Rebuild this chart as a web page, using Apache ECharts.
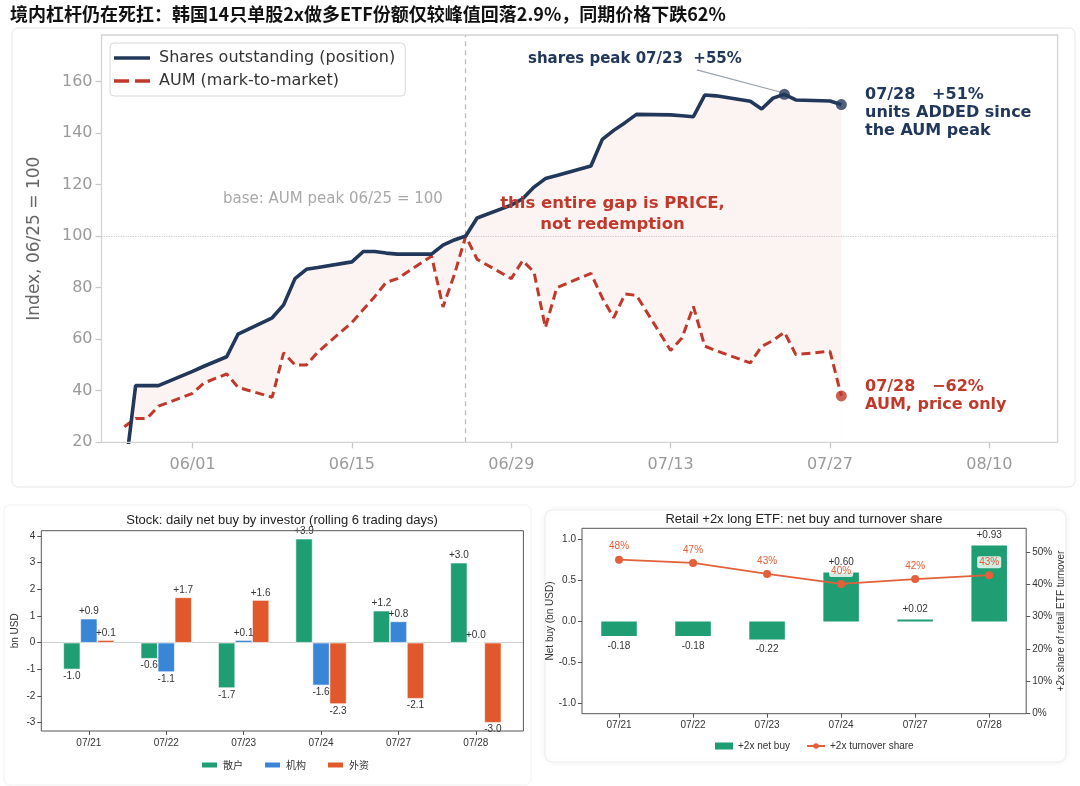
<!DOCTYPE html>
<html>
<head>
<meta charset="utf-8">
<title>韩国单股2x做多ETF</title>
<script src="https://cdn.jsdelivr.net/npm/echarts@6.0.0/dist/echarts.min.js"></script>
<style>
    html, body { margin: 0; padding: 0; background: #fff; }
    #chart { width: 1080px; height: 786px; }
</style>
</head>
<body>
<div id="chart"></div>
<script>
// 上图: 份额 vs AUM, 06/25 = 100
var dates = ['05/26', '05/27', '05/28', '05/29', '06/01', '06/02', '06/04', '06/05', '06/08', '06/09',
    '06/10', '06/11', '06/12', '06/15', '06/16', '06/17', '06/18', '06/19', '06/22', '06/23',
    '06/24', '06/25', '06/26', '06/29', '06/30', '07/01', '07/02', '07/03', '07/06', '07/07',
    '07/08', '07/09', '07/10', '07/13', '07/14', '07/15', '07/16', '07/17', '07/20', '07/21',
    '07/22', '07/23', '07/24', '07/27', '07/28'];
var shares = [6, 42, 42, 42, 47.5, 49.5, 53.2, 62, 68.3, 73.3,
    83.5, 87.1, 87.8, 90, 94, 94, 93.4, 93, 93, 96.5,
    98.5, 100, 107, 112, 114.5, 119, 122.3, 123.5, 127.2, 137.5,
    141, 144, 147.2, 147, 146.7, 146.3, 154.7, 154.4, 152.3, 149.3,
    153.5, 155, 152.8, 152.4, 151];
var aum = [26, 29.2, 29.3, 34, 39, 43, 46.5, 41.3, 37.5, 54.7,
    50, 50, 55, 66.5, 71.5, 76.5, 82, 83.5, 92.2, 72.5,
    85, 100, 91, 83.5, 90.5, 86, 64.5, 80, 85.5, 76,
    68.3, 77.5, 77, 55.6, 60.5, 72.7, 57.3, 55.5, 50.8, 57.2,
    59.5, 62.7, 54, 55.3, 38];
var dayTicks = ['06/01', '06/15', '06/29', '07/13', '07/27', '08/10'];
var indexTicks = [20, 40, 60, 80, 100, 120, 140, 160];

// 左下: 个股按投资者净买入
var flowDays = ['07/21', '07/22', '07/23', '07/24', '07/27', '07/28'];
var retail = [-1.0, -0.6, -1.7, 3.9, 1.2, 3.0];
var inst = [0.9, -1.1, 0.1, -1.6, 0.8, 0.02];
var foreign = [0.1, 1.7, 1.6, -2.3, -2.1, -3.0];
var flowTicks = [-3, -2, -1, 0, 1, 2, 3, 4];

// 右下: 散户 +2x ETF
var etfDays = ['07/21', '07/22', '07/23', '07/24', '07/27', '07/28'];
var etfNetBuy = [-0.18, -0.18, -0.22, 0.60, 0.024, 0.93];
var etfShare = [47.6, 46.6, 43.2, 40.1, 41.6, 42.8];
var netBuyTicks = [-1, -0.5, 0, 0.5, 1];
var shareTicks = [0, 10, 20, 30, 40, 50];

var NAVY = '#22385a';
var RED = '#c0392b';
var GREEN = '#1f9e74';
var BLUE = '#3a86d6';
var ORANGE = '#e0582c';
var LINE_ORANGE = '#e2603a';
var SANS = 'Liberation Sans';

var DAY0 = Date.UTC(2026, 5, 1);

function dayOf(md) {
    var p = md.split('/');
    return (Date.UTC(2026, +p[0] - 1, +p[1]) - DAY0) / 86400000;
}

function mdOf(day) {
    var d = new Date(DAY0 + Math.round(day) * 86400000);
    var m = d.getUTCMonth() + 1, dd = d.getUTCDate();
    return (m < 10 ? '0' : '') + m + '/' + (dd < 10 ? '0' : '') + dd;
}

function signed(v, n) {
    return (v >= 0 ? '+' : '') + v.toFixed(n);
}

function pairs(xs, ys) {
    var out = [];
    for (var i = 0; i < xs.length; i++) {
        out.push([dayOf(xs[i]), ys[i]]);
    }
    return out;
}

function flowBars(vals) {
    var out = [];
    for (var i = 0; i < vals.length; i++) {
        out.push({value: [i, vals[i]], label: {position: vals[i] < 0 ? 'bottom' : 'top'}});
    }
    return out;
}

function etfBars(vals) {
    var out = [];
    for (var i = 0; i < vals.length; i++) {
        out.push({value: vals[i], label: {position: vals[i] < 0 ? 'bottom' : 'top'}});
    }
    return out;
}

function initChart() {
    var sharesPts = pairs(dates, shares);
    var aumPts = pairs(dates, aum);
    var last = dates.length - 1;
    var peak = 0;
    for (var i = 1; i < shares.length; i++) {
        if (shares[i] > shares[peak]) peak = i;
    }

    var myChart = echarts.init(document.getElementById('chart'), null, {renderer: 'canvas'});

    var option = {
        backgroundColor: '#fff',
        animation: false,
        textStyle: {fontFamily: 'DejaVu Sans'},
        title: [
            {
                text: '境内杠杆仍在死扛：韩国14只单股2x做多ETF份额仅较峰值回落2.9%，同期价格下跌62%',
                left: 10, top: 5, padding: 0,
                textStyle: {fontFamily: 'Noto Sans CJK SC', fontSize: 18, fontWeight: 'bold', color: '#111'}
            },
            {
                text: 'Stock: daily net buy by investor (rolling 6 trading days)',
                left: 282, top: 514, padding: 0, textAlign: 'center',
                textStyle: {fontFamily: SANS, fontSize: 13, fontWeight: 'normal', color: '#222'}
            },
            {
                text: 'Retail +2x long ETF: net buy and turnover share',
                left: 804, top: 513, padding: 0, textAlign: 'center',
                textStyle: {fontFamily: SANS, fontSize: 13, fontWeight: 'normal', color: '#222'}
            }
        ],
        legend: [
            {
                data: [
                    {name: 'Shares outstanding (position)', icon: 'path://M0,0h36v3.6h-36z'},
                    {name: 'AUM (mark-to-market)', icon: 'path://M0,0h15v3.6h-15zM21,0h15v3.6h-15z'}
                ],
                orient: 'vertical', left: 110, top: 43,
                padding: [7, 10, 7, 4], itemGap: 7, itemWidth: 36, itemHeight: 3.6,
                backgroundColor: '#fff', borderColor: '#d8d8d8', borderWidth: 1, borderRadius: 4,
                textStyle: {fontFamily: 'DejaVu Sans', fontSize: 16, color: '#333', padding: [0, 0, 0, 4]}
            },
            {
                data: ['散户', '机构', '外资'],
                left: 200, top: 760, padding: 0, itemGap: 20,
                itemWidth: 17, itemHeight: 7, icon: 'rect',
                textStyle: {fontFamily: 'Noto Sans CJK SC', fontSize: 10, color: '#333'}
            },
            {
                data: [{name: '+2x net buy', icon: 'rect'}, {name: '+2x turnover share'}],
                left: 715, top: 741, padding: 0, itemGap: 16,
                itemWidth: 18, itemHeight: 7,
                textStyle: {fontFamily: SANS, fontSize: 10, color: '#333'}
            }
        ],
        grid: [
            {
                left: 101.5, right: 22.4, top: 35, bottom: 343.7, outerBoundsMode: 'none',
                show: true, z: 20, backgroundColor: 'transparent', borderColor: '#d4d4d4', borderWidth: 1.3
            },
            {
                left: 41.3, right: 556.6, top: 530.7, bottom: 55, outerBoundsMode: 'none',
                show: true, z: 20, backgroundColor: 'transparent', borderColor: '#555', borderWidth: 1
            },
            {
                left: 582, right: 53.8, top: 528.3, bottom: 72.3, outerBoundsMode: 'none',
                show: true, z: 20, backgroundColor: 'transparent', borderColor: '#555', borderWidth: 1
            }
        ],
        xAxis: [
            {
                type: 'value', gridIndex: 0, min: -8, max: 76,
                axisLine: {show: false, onZero: false},
                splitLine: {show: false},
                axisTick: {show: true, length: 6, customValues: dayTicks.map(dayOf), lineStyle: {color: '#c8c8c8', width: 1.3}},
                axisLabel: {
                    customValues: dayTicks.map(dayOf), margin: 15,
                    fontFamily: 'DejaVu Sans', fontSize: 16, color: '#9a9a9a',
                    formatter: function (v) { return mdOf(v); }
                }
            },
            {
                type: 'value', gridIndex: 1, min: -0.614, max: 5.614,
                axisLine: {show: false, onZero: false},
                splitLine: {show: false},
                axisTick: {show: true, length: 4, customValues: [0, 1, 2, 3, 4, 5], lineStyle: {color: '#555'}},
                axisLabel: {
                    customValues: [0, 1, 2, 3, 4, 5], margin: 7,
                    fontFamily: SANS, fontSize: 10, color: '#333',
                    formatter: function (v) { return flowDays[Math.round(v)]; }
                }
            },
            {
                type: 'category', gridIndex: 2, data: etfDays,
                axisLine: {show: false, onZero: false},
                axisTick: {show: true, alignWithLabel: true, length: 4, lineStyle: {color: '#555'}},
                axisLabel: {margin: 7, fontFamily: SANS, fontSize: 10, color: '#333'}
            }
        ],
        yAxis: [
            {
                type: 'value', gridIndex: 0, min: 20, max: 178,
                name: 'Index, 06/25 = 100', nameLocation: 'middle', nameGap: 58, nameRotate: 90,
                nameTextStyle: {fontFamily: 'DejaVu Sans', fontSize: 17, color: '#666'},
                axisLine: {show: false, onZero: false},
                splitLine: {show: false},
                axisTick: {show: true, length: 6, customValues: indexTicks, lineStyle: {color: '#c8c8c8', width: 1.3}},
                axisLabel: {customValues: indexTicks, margin: 9, fontFamily: 'DejaVu Sans', fontSize: 16, color: '#9a9a9a'}
            },
            {
                type: 'value', gridIndex: 1, min: -3.31, max: 4.2,
                name: 'bn USD', nameLocation: 'middle', nameGap: 21, nameRotate: 90,
                nameTextStyle: {fontFamily: SANS, fontSize: 10, color: '#333'},
                axisLine: {show: false, onZero: false},
                splitLine: {show: false},
                axisTick: {show: true, length: 4, customValues: flowTicks, lineStyle: {color: '#555'}},
                axisLabel: {customValues: flowTicks, margin: 6, fontFamily: SANS, fontSize: 10, color: '#333'}
            },
            {
                type: 'value', gridIndex: 2, min: -1.13, max: 1.14, position: 'left',
                name: 'Net buy (bn USD)', nameLocation: 'middle', nameGap: 26, nameRotate: 90,
                nameTextStyle: {fontFamily: SANS, fontSize: 10, color: '#333'},
                axisLine: {show: false, onZero: false},
                splitLine: {show: false},
                axisTick: {show: true, length: 4, customValues: netBuyTicks, lineStyle: {color: '#555'}},
                axisLabel: {
                    customValues: netBuyTicks, margin: 6, fontFamily: SANS, fontSize: 10, color: '#333',
                    formatter: function (v) { return v.toFixed(1); }
                }
            },
            {
                type: 'value', gridIndex: 2, min: 0, max: 57.3, position: 'right',
                name: '+2x share of retail ETF turnover', nameLocation: 'middle', nameGap: 27, nameRotate: 90,
                nameTextStyle: {fontFamily: SANS, fontSize: 10, color: '#333'},
                axisLine: {show: false, onZero: false},
                splitLine: {show: false},
                axisTick: {show: true, length: 4, customValues: shareTicks, lineStyle: {color: '#555'}},
                axisLabel: {
                    customValues: shareTicks, margin: 6, fontFamily: SANS, fontSize: 10, color: '#333',
                    formatter: function (v) { return v + '%'; }
                }
            }
        ],
        series: [
            // 份额线下方涂粉色, 再用白色盖住 AUM 线以下 => 两线之间的缺口
            {
                name: 'gapFill', type: 'line', xAxisIndex: 0, yAxisIndex: 0, data: sharesPts,
                symbol: 'none', silent: true, z: 1,
                lineStyle: {width: 0},
                areaStyle: {color: 'rgba(200,70,60,0.09)', origin: 'start'}
            },
            {
                name: 'gapMask', type: 'line', xAxisIndex: 0, yAxisIndex: 0, data: aumPts,
                symbol: 'none', silent: true, z: 2,
                lineStyle: {width: 0},
                areaStyle: {color: '#fff', opacity: 1, origin: 'start'},
                markLine: {
                    silent: true, symbol: 'none', label: {show: false},
                    data: [
                        {yAxis: 100, lineStyle: {type: 'dotted', color: '#c8c8c8', width: 1.2}},
                        {xAxis: dayOf('06/25'), lineStyle: {type: [5, 4], color: '#bdbdbd', width: 1.3}}
                    ]
                }
            },
            {
                name: 'AUM (mark-to-market)', type: 'line', xAxisIndex: 0, yAxisIndex: 0, data: aumPts,
                symbol: 'none', z: 9, color: RED,
                lineStyle: {color: RED, width: 3, type: [9, 5]}
            },
            {
                name: 'Shares outstanding (position)', type: 'line', xAxisIndex: 0, yAxisIndex: 0, data: sharesPts,
                symbol: 'none', z: 10, color: NAVY,
                lineStyle: {color: NAVY, width: 3.6},
                markLine: {
                    silent: true, symbol: 'none', label: {show: false},
                    lineStyle: {type: 'solid', color: '#9aa3ad', width: 1.2},
                    data: [[{coord: [44.3, 164.5]}, {coord: [dayOf(dates[peak]) - 0.3, shares[peak] + 0.8]}]]
                }
            },
            {
                name: 'sharesDots', type: 'scatter', xAxisIndex: 0, yAxisIndex: 0, z: 11,
                data: [sharesPts[peak], sharesPts[last]],
                symbolSize: 11, itemStyle: {color: NAVY}
            },
            {
                name: 'aumDot', type: 'scatter', xAxisIndex: 0, yAxisIndex: 0, z: 11,
                data: [aumPts[last]],
                symbolSize: 11, itemStyle: {color: RED}
            },

            // 左下
            {
                name: '散户', type: 'bar', xAxisIndex: 1, yAxisIndex: 1, data: flowBars(retail),
                barWidth: 17, barGap: '0%', z: 6,
                itemStyle: {color: GREEN, borderColor: '#fff', borderWidth: 0.6},
                label: {show: true, distance: 2, fontFamily: SANS, fontSize: 10, color: '#333',
                    formatter: function (p) { return signed(p.value[1], 1); }},
                markLine: {
                    silent: true, symbol: 'none', label: {show: false}, z: 1,
                    lineStyle: {type: 'solid', color: '#cfcfcf', width: 1},
                    data: [{yAxis: 0}]
                }
            },
            {
                name: '机构', type: 'bar', xAxisIndex: 1, yAxisIndex: 1, data: flowBars(inst),
                barWidth: 17, barGap: '0%', z: 6,
                itemStyle: {color: BLUE, borderColor: '#fff', borderWidth: 0.6},
                label: {show: true, distance: 2, fontFamily: SANS, fontSize: 10, color: '#333',
                    formatter: function (p) { return signed(p.value[1], 1); }}
            },
            {
                name: '外资', type: 'bar', xAxisIndex: 1, yAxisIndex: 1, data: flowBars(foreign),
                barWidth: 17, barGap: '0%', z: 6,
                itemStyle: {color: ORANGE, borderColor: '#fff', borderWidth: 0.6},
                label: {show: true, distance: 2, fontFamily: SANS, fontSize: 10, color: '#333',
                    formatter: function (p) { return signed(p.value[1], 1); }}
            },

            // 右下
            {
                name: '+2x net buy', type: 'bar', xAxisIndex: 2, yAxisIndex: 2, data: etfBars(etfNetBuy),
                barWidth: '48%', z: 4,
                itemStyle: {color: GREEN},
                label: {show: true, distance: 5, fontFamily: SANS, fontSize: 10, color: '#333',
                    formatter: function (p) { return signed(p.value, 2); }}
            },
            {
                name: '+2x turnover share', type: 'line', xAxisIndex: 2, yAxisIndex: 3, data: etfShare,
                z: 5, color: LINE_ORANGE,
                symbol: 'circle', symbolSize: 8,
                lineStyle: {color: LINE_ORANGE, width: 1.8},
                itemStyle: {color: LINE_ORANGE},
                label: {
                    show: true, position: 'top', distance: 3,
                    fontFamily: SANS, fontSize: 10, color: LINE_ORANGE,
                    backgroundColor: 'rgba(255,255,255,0.8)', padding: [1, 2], borderRadius: 2,
                    formatter: function (p) { return Math.round(p.value) + '%'; }
                }
            }
        ],
        graphic: [
            // 卡片边框
            {type: 'rect', z: -10, silent: true, shape: {x: 12, y: 28, width: 1063, height: 459, r: 6},
                style: {fill: 'none', stroke: '#e6e6e6', lineWidth: 1}},
            {type: 'rect', z: -10, silent: true, shape: {x: 4, y: 505, width: 527, height: 280, r: 6},
                style: {fill: 'none', stroke: '#f0f0f0', lineWidth: 1}},
            {type: 'rect', z: -10, silent: true, shape: {x: 545, y: 510, width: 521, height: 252, r: 8},
                style: {fill: '#fff', stroke: '#ececec', lineWidth: 1, shadowBlur: 6, shadowColor: 'rgba(0,0,0,0.06)'}},

            // 上图注释
            {type: 'text', z: 30, silent: true, x: 528, y: 59.5,
                style: {text: 'shares peak 07/23  +55%', fill: NAVY, font: 'bold 15px "DejaVu Sans"',
                    textAlign: 'left', textVerticalAlign: 'middle'}},
            {type: 'text', z: 30, silent: true, x: 865, y: 86,
                style: {text: '07/28   +51%\nunits ADDED since\nthe AUM peak', fill: NAVY,
                    font: 'bold 16px "DejaVu Sans"', lineHeight: 18, textAlign: 'left', textVerticalAlign: 'top'}},
            {type: 'text', z: 30, silent: true, x: 865, y: 377.5,
                style: {text: '07/28   \u221262%\nAUM, price only', fill: RED,
                    font: 'bold 16px "DejaVu Sans"', lineHeight: 18, textAlign: 'left', textVerticalAlign: 'top'}},
            {type: 'text', z: 30, silent: true, x: 612.5, y: 192.5,
                style: {text: 'this entire gap is PRICE,\nnot redemption', fill: RED,
                    font: 'bold 16.5px "DejaVu Sans"', lineHeight: 21.5, textAlign: 'center', textVerticalAlign: 'top'}},
            {type: 'text', z: 30, silent: true, x: 223, y: 199.5,
                style: {text: 'base: AUM peak 06/25 = 100', fill: '#a8a8a8',
                    font: '15px "DejaVu Sans"', textAlign: 'left', textVerticalAlign: 'middle'}}
        ]
    };

    myChart.setOption(option);
}

initChart();
</script>
</body>
</html>
